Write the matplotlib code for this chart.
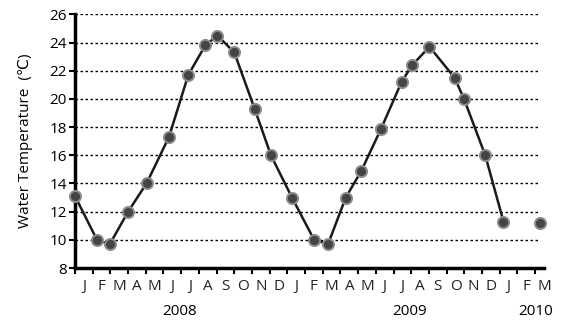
import matplotlib
matplotlib.use('Agg')
import matplotlib.pyplot as plt
import matplotlib.transforms as mtransforms

plt.rcParams['font.family'] = ['Open Sans', 'DejaVu Sans']

# sample positions in months since 1 Jan 2008, and water temperature (deg C)
month_pos = [0.0, 1.24, 1.97, 3.0, 4.04, 5.31, 6.4, 7.36, 8.05, 9.0, 10.15, 11.07,
             12.26, 13.51, 14.3, 15.3, 16.18, 17.3, 18.45, 19.05, 20.03, 21.45,
             21.98, 23.18, 24.21]
temps = [13.1, 10.0, 9.7, 12.0, 14.0, 17.3, 21.7, 23.8, 24.5, 23.3, 19.3, 16.0,
         13.0, 10.0, 9.7, 13.0, 14.9, 17.9, 21.2, 22.4, 23.7, 21.5,
         20.0, 16.0, 11.3]
# last sample, not joined to the line
extra_pos = [26.28]
extra_temp = [11.2]

month_labels = list('JFMAMJJASOND') * 2 + list('JFM')
years = ['2008', '2009', '2010']
year_pos = [5.9, 18.9, 26.0]
yticks = list(range(8, 27, 2))

fig = plt.figure(figsize=(5.61, 3.2), dpi=100)
ax = fig.add_axes([0.1337, 0.1625, 0.9697 - 0.1337, 0.955 - 0.1625])

for v in yticks[1:]:
    ax.axhline(v, xmin=0, xmax=0.99, color='black', lw=1.0, ls=(0, (1.8, 1.8)), zorder=1)

mk = dict(marker='o', markersize=8, markerfacecolor='#444444',
          markeredgecolor='#8c8c8c', markeredgewidth=1.4)
ax.plot(month_pos, temps, color='#1a1a1a', lw=1.8, zorder=3, clip_on=False, **mk)
ax.plot(extra_pos, extra_temp, ls='none', zorder=3, clip_on=False, **mk)

ax.set_xlim(0, 26.4)
ax.set_ylim(8, 26)
ax.set_yticks(yticks)
ax.set_xticks(range(0, 27))
ax.set_xticklabels([])
ax.set_xticks([i + 0.5 for i in range(len(month_labels))], minor=True)
ax.set_xticklabels(month_labels, minor=True)

ax.tick_params(axis='y', direction='out', length=4, width=1.5, labelsize=11,
               colors='black', pad=2)
ax.tick_params(axis='x', which='major', direction='out', length=4, width=1.5)
ax.tick_params(axis='x', which='minor', length=0, labelsize=11, pad=8)
for lab in ax.get_xticklabels(minor=True):
    lab.set_color('#222222')

for s in ('top', 'right'):
    ax.spines[s].set_visible(False)
ax.spines['left'].set_linewidth(2.5)
ax.spines['bottom'].set_linewidth(2.5)

ax.set_ylabel('Water Temperature  (\u2103)', fontsize=11, labelpad=12)

trans = mtransforms.blended_transform_factory(ax.transData, fig.transFigure)
for y, p in zip(years, year_pos):
    ax.text(p, 1 - 311.5 / 320, y, transform=trans, ha='center', va='center',
            fontsize=11)

fig.savefig('out.png', dpi=100)
